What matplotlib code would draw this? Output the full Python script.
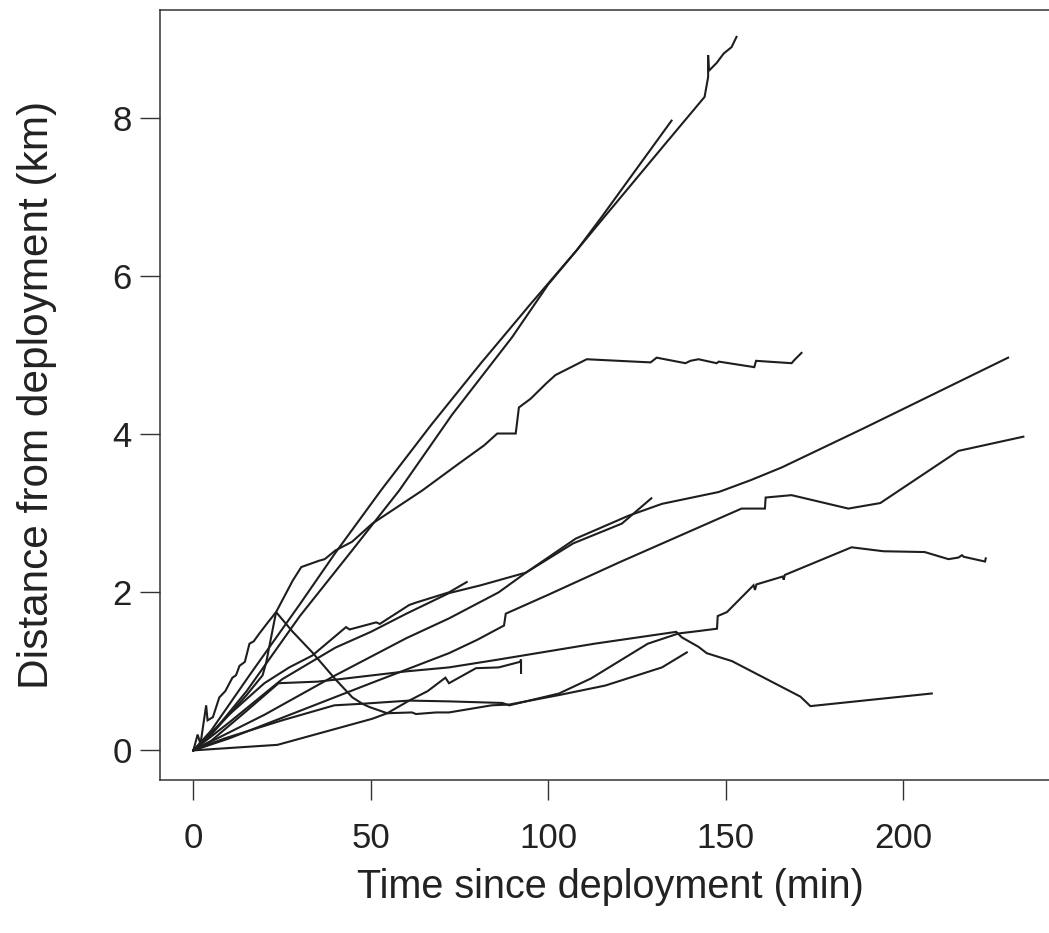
import matplotlib.pyplot as plt

# Drifter tracks: time since deployment (min) vs distance from deployment (km)
track_a_t = [0, 2, 5, 15.8, 30, 40, 53, 67, 81, 95, 108, 115, 133, 144, 145, 145, 145.2, 147.4, 149.4, 151.6, 153]
track_a_d = [0, 0.1, 0.25, 0.95, 1.85, 2.5, 3.3, 4.12, 4.9, 5.65, 6.33, 6.71, 7.68, 8.27, 8.52, 8.8, 8.6, 8.7, 8.82, 8.9, 9.03]

track_b_t = [0, 5, 15, 30, 44.7, 58, 72.9, 89.8, 100, 108, 115, 134.7]
track_b_d = [0, 0.2, 0.75, 1.7, 2.53, 3.29, 4.25, 5.23, 5.9, 6.33, 6.75, 7.97]

track_c_t = [0, 1.2, 2, 3.6, 4, 5.5, 7.3, 9, 11, 12, 13, 14.5, 15.8, 17, 18.6, 21, 23.3, 26, 28, 30.4,
             35.4, 37, 40, 44.7, 50.4, 64.5, 74.8, 81.9, 85.6, 90.8, 91.7, 95, 99.3, 102, 110.8, 128.8,
             130.5, 138.6, 140, 142.3, 147.4, 148, 158, 158.5, 168.5, 169.5, 171.3]
track_c_d = [0, 0.2, 0.08, 0.57, 0.38, 0.42, 0.67, 0.75, 0.92, 0.95, 1.07, 1.12, 1.35, 1.38, 1.48, 1.62, 1.75, 1.98, 2.15, 2.32,
             2.4, 2.42, 2.53, 2.64, 2.87, 3.29, 3.63, 3.86, 4.01, 4.01, 4.34, 4.45, 4.64, 4.75, 4.95, 4.91,
             4.97, 4.9, 4.93, 4.95, 4.9, 4.92, 4.85, 4.93, 4.9, 4.95, 5.03]

track_d_t = [0, 5, 10, 15, 19.5, 20.5, 23.3, 28, 33.5, 40, 44.8, 47.6, 49.5, 54.6, 60.8, 66, 71, 72, 79.6, 86, 92, 92.3, 92.3]
track_d_d = [0, 0.2, 0.45, 0.7, 0.95, 1.11, 1.75, 1.5, 1.24, 0.9, 0.67, 0.59, 0.55, 0.47, 0.63, 0.75, 0.92, 0.85, 1.04, 1.05, 1.12, 1.15, 0.98]

track_e_t = [0, 8.7, 25, 39.7, 47.6, 60.8, 72, 87, 89, 103, 112, 128, 136.7, 142.3, 147.5, 147.7, 150.3, 157.8,
             158.2, 158.6, 166, 166.3, 166.6, 185.4, 194.4, 206, 212.7, 215.5, 216.5, 217, 223, 223.2]
track_e_d = [0, 0.15, 0.38, 0.57, 0.59, 0.63, 0.62, 0.6, 0.57, 0.72, 0.91, 1.35, 1.48, 1.51, 1.54, 1.7, 1.75, 2.09,
             2.03, 2.1, 2.2, 2.16, 2.22, 2.57, 2.52, 2.51, 2.42, 2.44, 2.47, 2.45, 2.39, 2.43]

track_f_t = [0, 5, 15, 24, 35, 41, 60, 72, 86, 113, 136, 137.6, 142.3, 144.6, 151.7, 171, 173.8, 208]
track_f_d = [0, 0.12, 0.5, 0.85, 0.87, 0.9, 1.0, 1.05, 1.15, 1.35, 1.5, 1.43, 1.31, 1.23, 1.13, 0.68, 0.56, 0.72]

track_h_t = [0, 10, 30, 50, 72, 80, 87.5, 88, 100, 120, 154.4, 161, 161.2, 168.5, 184.5, 193.5, 215.5, 233.8]
track_h_d = [0, 0.15, 0.5, 0.85, 1.23, 1.4, 1.58, 1.73, 1.97, 2.38, 3.06, 3.06, 3.2, 3.23, 3.06, 3.13, 3.79, 3.97]

track_i_t = [0, 20, 40, 60, 72, 86, 93.7, 107, 120.7, 129]
track_i_d = [0, 0.45, 0.95, 1.42, 1.67, 2.0, 2.25, 2.62, 2.87, 3.19]

track_j_t = [0, 10, 25, 40, 50, 60, 72, 81, 93.7, 107.7, 122.6, 132, 148, 157, 165.7, 189, 229.5]
track_j_d = [0, 0.35, 0.9, 1.3, 1.5, 1.73, 1.99, 2.09, 2.25, 2.68, 2.97, 3.12, 3.27, 3.42, 3.58, 4.08, 4.97]

track_k_t = [0, 10, 20, 27, 33.5, 43, 44, 51.5, 52.5, 60.8, 62.7, 72, 77]
track_k_d = [0, 0.45, 0.85, 1.05, 1.2, 1.56, 1.53, 1.62, 1.6, 1.84, 1.87, 2.0, 2.13]

track_l_t = [0, 23.7, 50.4, 54.6, 61.6, 62.7, 68.4, 72, 84, 89, 103, 116, 132, 139]
track_l_d = [0, 0.07, 0.4, 0.47, 0.48, 0.46, 0.48, 0.48, 0.57, 0.58, 0.7, 0.82, 1.05, 1.24]

tracks = [
    (track_a_t, track_a_d), (track_b_t, track_b_d), (track_c_t, track_c_d),
    (track_d_t, track_d_d), (track_e_t, track_e_d), (track_f_t, track_f_d),
    (track_h_t, track_h_d), (track_i_t, track_i_d), (track_j_t, track_j_d),
    (track_k_t, track_k_d), (track_l_t, track_l_d),
]

x_ticks = [0, 50, 100, 150, 200]
y_ticks = [0, 2, 4, 6, 8]

plt.rcParams['font.family'] = ['Liberation Sans', 'DejaVu Sans']

fig = plt.figure(figsize=(10.49, 9.33), dpi=100)
ax = fig.add_axes([160 / 1049, 153 / 933, 901 / 1049, 770 / 933])

for t, d in tracks:
    ax.plot(t, d, color='#1e1e1e', linewidth=1.5, solid_joinstyle='miter')

ax.set_xlim(-9.4, 244.4)
ax.set_ylim(-0.375, 9.37)
ax.set_xticks(x_ticks)
ax.set_yticks(y_ticks)
ax.tick_params(axis='both', direction='out', length=14.5, width=1.0, color='#333333',
               labelsize=25, labelcolor='#222222')
ax.tick_params(axis='x', pad=16)
ax.tick_params(axis='y', pad=6)
for s in ax.spines.values():
    s.set_linewidth(1.1)
    s.set_color('#333333')

ax.set_xlabel('Time since deployment (min)', fontsize=28.5, color='#222222', labelpad=9)
ax.set_ylabel('Distance from deployment (km)', fontsize=30.5, color='#222222', labelpad=40)

fig.savefig('out.png', dpi=100, facecolor='white')
